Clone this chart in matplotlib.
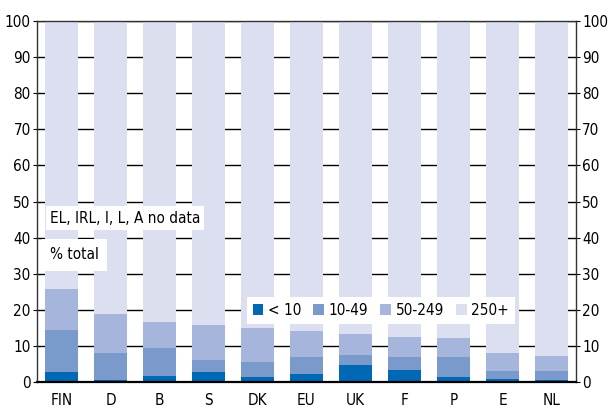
import matplotlib
matplotlib.use("Agg")
import matplotlib.pyplot as plt
import numpy as np
from matplotlib.patches import Patch

plt.rcParams['font.family'] = ['DejaVu Sans']
plt.rcParams['font.stretch'] = 'condensed'

countries = ["FIN", "D", "B", "S", "DK", "EU", "UK", "F", "P", "E", "NL"]
size_classes = ["< 10", "10-49", "50-249", "250+"]
# class shares (% of total), stacked bottom to top
lt10 = [2.8, 0.6, 1.7, 2.8, 1.4, 2.2, 4.7, 3.3, 1.4, 0.8, 0.6]
c10_49 = [11.6, 7.4, 7.8, 3.3, 4.2, 4.8, 2.8, 3.7, 5.6, 2.3, 2.5]
c50_249 = [11.4, 10.8, 7.1, 9.7, 9.4, 7.2, 5.8, 5.4, 5.1, 4.9, 4.1]
c250 = [100 - a - b - c for a, b, c in zip(lt10, c10_49, c50_249)]

colors = ["#0068b4", "#7a9acc", "#a5b5dc", "#dcdff0"]

fig = plt.figure(figsize=(6.08, 4.09), dpi=100)
ax = fig.add_axes([37 / 608, 27 / 409, 539 / 608, 361 / 409])

x = np.arange(len(countries))
bottom = np.zeros(len(countries))
for vals, col in zip([lt10, c10_49, c50_249, c250], colors):
    ax.bar(x, vals, width=0.68, bottom=bottom, color=col, zorder=2, linewidth=0)
    bottom += np.array(vals)

fs = 11
ax.set_xlim(-0.5, len(countries) - 0.5)
ax.set_ylim(0, 100)
ax.set_yticks(range(0, 101, 10))
ax.yaxis.grid(True, color="black", linewidth=1.0, zorder=0)
ax.set_axisbelow(True)
ax.set_xticks(x)
ax.set_xticklabels(countries, fontsize=fs)
ax.tick_params(axis="x", length=0, pad=8)
ax.tick_params(axis="y", labelsize=fs, length=3, direction="out",
               labelleft=True, labelright=True, left=True, right=True, pad=2)
ax.tick_params(axis="y", which="major", pad=1.5)
for s in ax.spines.values():
    s.set_color("#333333")
    s.set_linewidth(1.0)
ax.spines["bottom"].set_color("black")
ax.spines["bottom"].set_linewidth(1.6)

ax.text(0.024, 0.454, "EL, IRL, I, L, A no data", transform=ax.transAxes,
        fontsize=fs, va="center", ha="left",
        bbox=dict(facecolor="white", edgecolor="none", pad=3), zorder=5)
ax.text(0.024, 0.352, "% total", transform=ax.transAxes,
        fontsize=fs, va="center", ha="left",
        bbox=dict(facecolor="white", edgecolor="none", pad=6), zorder=5)

handles = [Patch(facecolor=c, edgecolor="none") for c in colors]
leg = ax.legend(handles, size_classes, ncol=4, loc="lower left",
                bbox_to_anchor=(0.389, 0.161, 0.498, 0.086), mode="expand",
                frameon=True, fancybox=False, edgecolor="none", framealpha=1,
                fontsize=fs, handlelength=0.7, handleheight=0.7,
                handletextpad=0.3, columnspacing=1.0, borderaxespad=0)
leg.set_zorder(5)

fig.savefig("out.png", dpi=100)
